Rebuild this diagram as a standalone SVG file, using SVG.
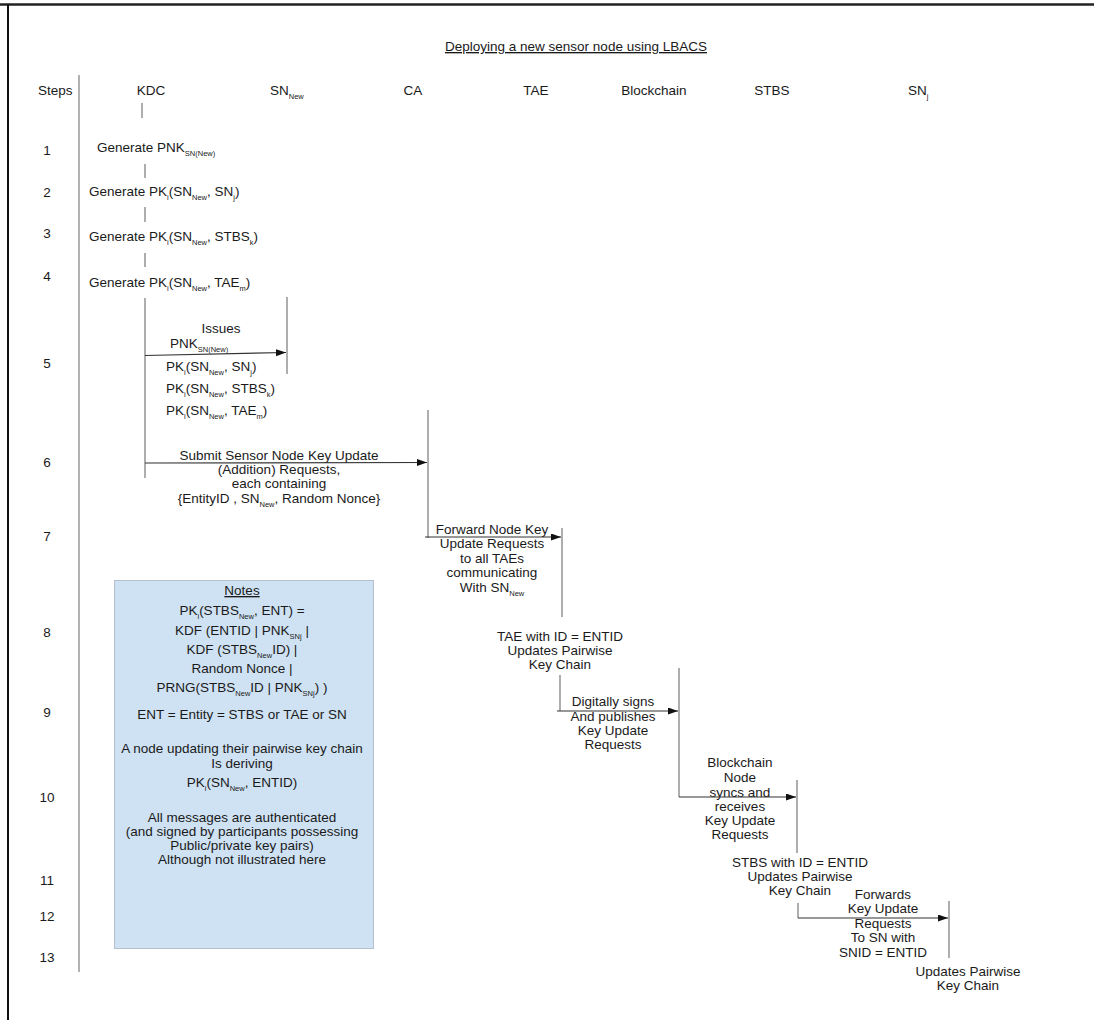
<svg xmlns="http://www.w3.org/2000/svg" width="1094" height="1020" viewBox="0 0 1094 1020">
<defs>
<style>
text{font-family:"Liberation Sans",Arial,sans-serif;font-size:13.5px;fill:#1a1a1a}
.c{text-anchor:middle}
.s{font-size:7.5px}
.life{stroke:#777;stroke-width:1.2;fill:none}
.msg{stroke:#333;stroke-width:1.2;fill:none}
.step{text-anchor:middle}
</style>
<marker id="ah" markerWidth="11" markerHeight="8" refX="10" refY="3.5" orient="auto" markerUnits="userSpaceOnUse">
<path d="M0,0 L10,3.5 L0,7 z" fill="#111"/>
</marker>
</defs>
<rect width="1094" height="1020" fill="#fff"/>
<g id="frame">
<line x1="0" y1="4.5" x2="1094" y2="4.5" stroke="#222" stroke-width="2.5"/>
<line x1="8" y1="4" x2="8" y2="1020" stroke="#111" stroke-width="2"/>
<line x1="79" y1="75" x2="79" y2="972" stroke="#999" stroke-width="1.5"/>
</g>
<text id="title" class="c" x="576" y="51" text-decoration="underline" font-size="13">Deploying a new sensor node using LBACS</text>
<g id="headers">
<text x="38" y="95">Steps</text>
<text class="c" x="151" y="95">KDC</text>
<text x="270" y="95">SN<tspan class="s" dy="4">New</tspan></text>
<text class="c" x="413" y="95">CA</text>
<text class="c" x="536" y="95">TAE</text>
<text class="c" x="654" y="95">Blockchain</text>
<text class="c" x="772" y="95">STBS</text>
<text x="908" y="95">SN<tspan class="s" dy="4">j</tspan></text>
</g>
<g id="steps">
<text class="step" x="47" y="155">1</text>
<text class="step" x="47" y="197">2</text>
<text class="step" x="47" y="238">3</text>
<text class="step" x="47" y="281">4</text>
<text class="step" x="47" y="368">5</text>
<text class="step" x="47" y="467">6</text>
<text class="step" x="47" y="541">7</text>
<text class="step" x="47" y="637">8</text>
<text class="step" x="47" y="717">9</text>
<text class="step" x="47" y="802">10</text>
<text class="step" x="47" y="885">11</text>
<text class="step" x="47" y="921">12</text>
<text class="step" x="47" y="962">13</text>
</g>
<g id="kdc-steps">
<text x="97" y="152">Generate PNK<tspan class="s" dy="4">SN(New)</tspan></text>
<text x="89" y="196">Generate PK<tspan class="s" dy="4">i</tspan><tspan dy="-4">(SN</tspan><tspan class="s" dy="4">New</tspan><tspan dy="-4">, SN</tspan><tspan class="s" dy="4">j</tspan><tspan dy="-4">)</tspan></text>
<text x="89" y="241">Generate PK<tspan class="s" dy="4">i</tspan><tspan dy="-4">(SN</tspan><tspan class="s" dy="4">New</tspan><tspan dy="-4">, STBS</tspan><tspan class="s" dy="4">k</tspan><tspan dy="-4">)</tspan></text>
<text x="89" y="287">Generate PK<tspan class="s" dy="4">i</tspan><tspan dy="-4">(SN</tspan><tspan class="s" dy="4">New</tspan><tspan dy="-4">, TAE</tspan><tspan class="s" dy="4">m</tspan><tspan dy="-4">)</tspan></text>
</g>
<g id="step5-label">
<text class="c" x="221" y="333">Issues</text>
<text x="170" y="348">PNK<tspan class="s" dy="4">SN(New)</tspan></text>
<text x="166" y="371">PK<tspan class="s" dy="4">i</tspan><tspan dy="-4">(SN</tspan><tspan class="s" dy="4">New</tspan><tspan dy="-4">, SN</tspan><tspan class="s" dy="4">j</tspan><tspan dy="-4">)</tspan></text>
<text x="166" y="393">PK<tspan class="s" dy="4">i</tspan><tspan dy="-4">(SN</tspan><tspan class="s" dy="4">New</tspan><tspan dy="-4">, STBS</tspan><tspan class="s" dy="4">k</tspan><tspan dy="-4">)</tspan></text>
<text x="166" y="415">PK<tspan class="s" dy="4">i</tspan><tspan dy="-4">(SN</tspan><tspan class="s" dy="4">New</tspan><tspan dy="-4">, TAE</tspan><tspan class="s" dy="4">m</tspan><tspan dy="-4">)</tspan></text>
</g>
<g id="step6-label">
<text class="c" x="279" y="460">Submit Sensor Node Key Update</text>
<text class="c" x="279" y="474">(Addition) Requests,</text>
<text class="c" x="279" y="488">each containing</text>
<text class="c" x="279" y="503">{EntityID , SN<tspan class="s" dy="4">New</tspan><tspan dy="-4">, Random Nonce}</tspan></text>
</g>
<g id="step7-label">
<text class="c" x="492" y="534">Forward Node Key</text>
<text class="c" x="492" y="548">Update Requests</text>
<text class="c" x="492" y="563">to all TAEs</text>
<text class="c" x="492" y="577">communicating</text>
<text class="c" x="492" y="592">With SN<tspan class="s" dy="4">New</tspan></text>
</g>
<g id="step8-label">
<text class="c" x="560" y="641">TAE with ID = ENTID</text>
<text class="c" x="560" y="655">Updates Pairwise</text>
<text class="c" x="560" y="669">Key Chain</text>
</g>
<g id="step9-label">
<text class="c" x="613" y="706">Digitally signs</text>
<text class="c" x="613" y="721">And publishes</text>
<text class="c" x="613" y="735">Key Update</text>
<text class="c" x="613" y="749">Requests</text>
</g>
<g id="step10-label">
<text class="c" x="740" y="767">Blockchain</text>
<text class="c" x="740" y="782">Node</text>
<text class="c" x="740" y="797">syncs and</text>
<text class="c" x="740" y="811">receives</text>
<text class="c" x="740" y="825">Key Update</text>
<text class="c" x="740" y="839">Requests</text>
</g>
<g id="step11-label">
<text class="c" x="800" y="867">STBS with ID = ENTID</text>
<text class="c" x="800" y="881">Updates Pairwise</text>
<text class="c" x="800" y="895">Key Chain</text>
</g>
<g id="step12-label">
<text class="c" x="883" y="899">Forwards</text>
<text class="c" x="883" y="913">Key Update</text>
<text class="c" x="883" y="928">Requests</text>
<text class="c" x="883" y="942">To SN with</text>
<text class="c" x="883" y="957">SNID = ENTID</text>
</g>
<g id="step13-label">
<text class="c" x="968" y="976">Updates Pairwise</text>
<text class="c" x="968" y="990">Key Chain</text>
</g>
<g id="notes">
<rect x="114.5" y="580.5" width="259" height="368" fill="#cfe2f3" stroke="#b4c0cc" stroke-width="1"/>
<text class="c" x="242" y="595" text-decoration="underline">Notes</text>
<text class="c" x="242" y="615">PK<tspan class="s" dy="4">i</tspan><tspan dy="-4">(STBS</tspan><tspan class="s" dy="4">New</tspan><tspan dy="-4">, ENT) =</tspan></text>
<text class="c" x="242" y="635">KDF (ENTID | PNK<tspan class="s" dy="4">SNj</tspan><tspan dy="-4">  |</tspan></text>
<text class="c" x="242" y="654">KDF (STBS<tspan class="s" dy="4">New</tspan><tspan dy="-4">ID) |</tspan></text>
<text class="c" x="242" y="673">Random Nonce |</text>
<text class="c" x="242" y="692">PRNG(STBS<tspan class="s" dy="4">New</tspan><tspan dy="-4">ID | PNK</tspan><tspan class="s" dy="4">SNj</tspan><tspan dy="-4">) )</tspan></text>
<text class="c" x="242" y="719">ENT = Entity = STBS or TAE or SN</text>
<text class="c" x="242" y="753">A node updating their pairwise key chain</text>
<text class="c" x="242" y="768">Is deriving</text>
<text class="c" x="242" y="787">PK<tspan class="s" dy="4">i</tspan><tspan dy="-4">(SN</tspan><tspan class="s" dy="4">New</tspan><tspan dy="-4">, ENTID)</tspan></text>
<text class="c" x="242" y="822">All messages are authenticated</text>
<text class="c" x="242" y="836">(and signed by participants possessing</text>
<text class="c" x="242" y="850">Public/private key pairs)</text>
<text class="c" x="242" y="864">Although not illustrated here</text>
</g>
<g id="connectors">
<line class="life" x1="142" y1="103" x2="142" y2="118"/>
<line class="life" x1="145" y1="164" x2="145" y2="178"/>
<line class="life" x1="145" y1="207" x2="145" y2="222"/>
<line class="life" x1="145" y1="253" x2="145" y2="267"/>
<line class="life" x1="145" y1="298" x2="145" y2="478"/>
<line class="life" x1="287" y1="297" x2="287" y2="374"/>
<line class="life" x1="428" y1="410" x2="428" y2="538"/>
<line class="life" x1="562" y1="528" x2="562" y2="617"/>
<line class="life" x1="560" y1="675" x2="560" y2="711"/>
<line class="life" x1="679" y1="668" x2="679" y2="797"/>
<line class="life" x1="797" y1="780" x2="797" y2="853"/>
<line class="life" x1="798" y1="903" x2="798" y2="918"/>
<line class="life" x1="949" y1="901" x2="949" y2="958"/>
<line class="msg" x1="145" y1="355.5" x2="286" y2="352.5" marker-end="url(#ah)"/>
<line class="msg" x1="145" y1="463" x2="427" y2="462.5" marker-end="url(#ah)"/>
<line class="msg" x1="425" y1="537" x2="561" y2="537" marker-end="url(#ah)"/>
<line class="msg" x1="557" y1="711" x2="678" y2="711" marker-end="url(#ah)"/>
<line class="msg" x1="679" y1="797" x2="796" y2="797" marker-end="url(#ah)"/>
<line class="msg" x1="798" y1="918" x2="948" y2="918" marker-end="url(#ah)"/>
</g>
</svg>
